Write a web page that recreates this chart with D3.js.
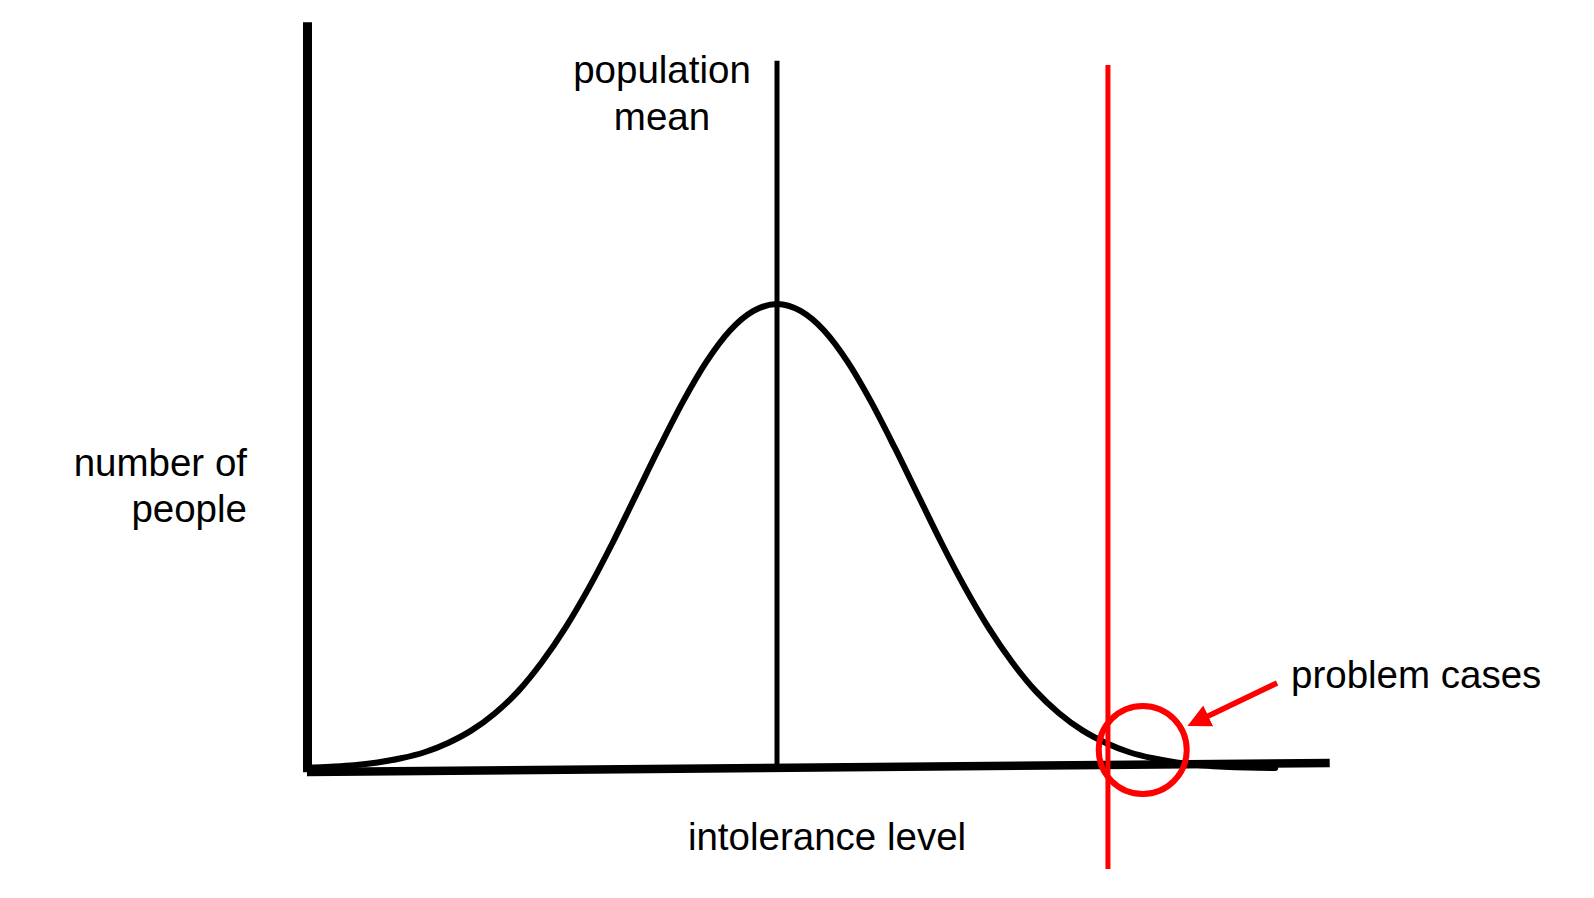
<!DOCTYPE html>
<html>
<head>
<meta charset="utf-8">
<script src="https://cdn.jsdelivr.net/npm/d3@7/dist/d3.min.js"></script>
<style>
  html, body { margin: 0; padding: 0; background: #fff; }
  svg { display: block; }
  text { font-family: "Liberation Sans", Arial, sans-serif; font-size: 38.5px; fill: #000; }
</style>
</head>
<body>
<svg id="chart" width="1594" height="898"></svg>
<script>
// ---- data ----
const intoleranceLevel = [0, 2.5, 5, 7.5, 10, 12.5, 15, 17.5, 20, 22.5, 25, 27.5, 30, 32.5, 35, 37.5, 40, 42.5, 45, 47.5,
                          50, 52.5, 55, 57.5, 60, 62.5, 65, 67.5, 70, 72.5, 75, 77.5, 80, 82.5, 85, 87.5, 90, 92.5, 95, 97.5, 100, 103];
const numberOfPeople   = [0.3, 0.5, 0.8, 1.4, 2.3, 3.6, 5.6, 8.3, 12.0, 16.8, 23.0, 30.4, 39.0, 48.6, 58.9, 69.2, 79.0, 87.6, 94.3, 98.5,
                          100, 98.5, 94.3, 87.6, 79.0, 69.2, 58.9, 48.6, 39.0, 30.4, 23.0, 16.8, 12.0, 8.3, 5.6, 3.6, 2.3, 1.4, 0.8, 0.5, 0.3, 0.2];
const populationMean = 50;
const problemThreshold = 85.1;
const problemCircle = [88.8, 4.1];
const arrowFrom = [103.2, 18.5];
const arrowTo = [93.9, 9.5];
const labels = {
  yTitle: ["number of", "people"],
  xTitle: "intolerance level",
  mean: ["population", "mean"],
  problem: "problem cases"
};

// ---- layout ----
const svg = d3.select("#chart");
const x = d3.scaleLinear().domain([0, 100]).range([307, 1247]);
const y = d3.scaleLinear().domain([0, 100]).range([769, 304]);
const red = "#f00";

// y axis
svg.append("line")
  .attr("x1", x(0) + 0.5).attr("x2", x(0) + 0.5)
  .attr("y1", y(160.6)).attr("y2", y(-0.7))
  .attr("stroke", "#000").attr("stroke-width", 9);

// curve
const line = d3.line()
  .x((d, i) => x(intoleranceLevel[i]))
  .y(d => y(d))
  .curve(d3.curveMonotoneX);
svg.append("path")
  .attr("d", line(numberOfPeople))
  .attr("fill", "none")
  .attr("stroke", "#000")
  .attr("stroke-width", 6)
  .attr("stroke-linecap", "round");

// x axis (slightly tilted, as drawn)
svg.append("line")
  .attr("x1", x(0)).attr("y1", y(-0.65))
  .attr("x2", x(108.8)).attr("y2", y(1.3))
  .attr("stroke", "#000").attr("stroke-width", 8.5);

// population mean line
svg.append("line")
  .attr("x1", x(populationMean)).attr("x2", x(populationMean))
  .attr("y1", y(152.3)).attr("y2", y(0.5))
  .attr("stroke", "#000").attr("stroke-width", 5);

// problem threshold (red)
svg.append("line")
  .attr("x1", x(problemThreshold) + 1).attr("x2", x(problemThreshold) + 1)
  .attr("y1", y(151.4)).attr("y2", y(-21.5))
  .attr("stroke", red).attr("stroke-width", 5);

// circle
svg.append("ellipse")
  .attr("cx", x(problemCircle[0]) + 1).attr("cy", y(problemCircle[1]))
  .attr("rx", 44).attr("ry", 44)
  .attr("fill", "none").attr("stroke", red).attr("stroke-width", 6);

// arrow
const defs = svg.append("defs");
defs.append("marker")
  .attr("id", "head")
  .attr("viewBox", "0 0 10 10")
  .attr("refX", 2).attr("refY", 5)
  .attr("markerWidth", 4.2).attr("markerHeight", 4.6)
  .attr("markerUnits", "strokeWidth")
  .attr("orient", "auto")
  .append("path").attr("d", "M0,0 L10,5 L0,10 Z").attr("fill", red);
const ax1 = x(arrowFrom[0]), ay1 = y(arrowFrom[1]);
const ax2 = x(arrowTo[0]), ay2 = y(arrowTo[1]);
const ang = Math.atan2(ay2 - ay1, ax2 - ax1);
const back = 16;
svg.append("line")
  .attr("x1", ax1).attr("y1", ay1)
  .attr("x2", ax2 - back * Math.cos(ang)).attr("y2", ay2 - back * Math.sin(ang))
  .attr("stroke", red).attr("stroke-width", 5.5)
  .attr("marker-end", "url(#head)");

// texts
const meanText = svg.append("text").attr("text-anchor", "middle");
labels.mean.forEach((t, i) => meanText.append("tspan").attr("x", 662).attr("y", 83 + i * 47).text(t));

const yText = svg.append("text").attr("text-anchor", "end");
labels.yTitle.forEach((t, i) => yText.append("tspan").attr("x", 247).attr("y", 476 + i * 46).text(t));

svg.append("text").attr("text-anchor", "middle").attr("x", 827).attr("y", 850).text(labels.xTitle);
svg.append("text").attr("text-anchor", "start").attr("x", 1291).attr("y", 688).text(labels.problem);
</script>
</body>
</html>
